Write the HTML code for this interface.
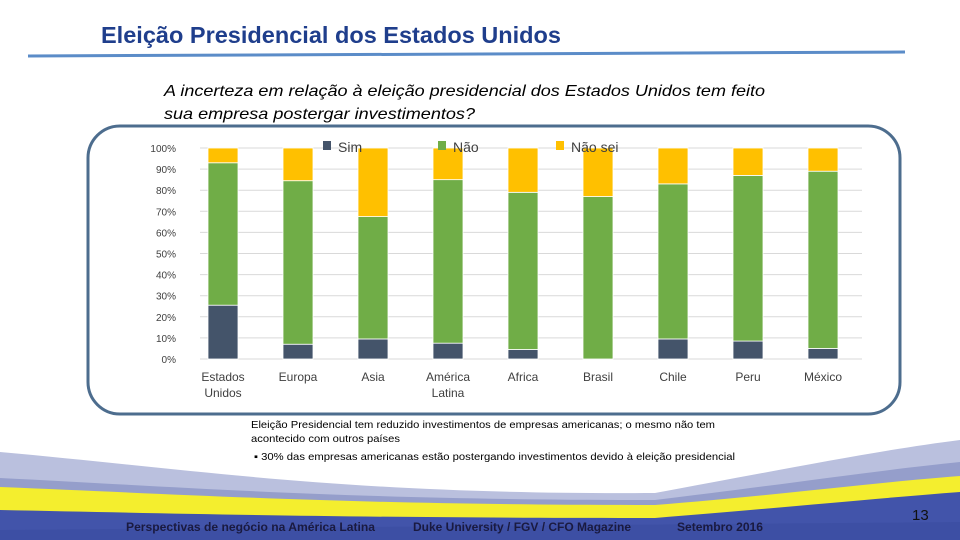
<!DOCTYPE html>
<html><head><meta charset="utf-8"><style>
body{margin:0;width:960px;height:540px;overflow:hidden;background:#fff;font-family:"Liberation Sans",sans-serif}
svg{position:absolute;left:0;top:0}
</style></head><body>
<svg width="960" height="540">
<g>
<path d="M0,452 C200,470 350,495 655,493 C780,470 880,450 960,440 L960,540 L0,540Z" fill="#bac0de"/>
<path d="M0,478 C200,488 350,500 655,500 C780,485 880,470 960,462 L960,540 L0,540Z" fill="#959ecb"/>
<path d="M0,487 C200,495 350,505 655,505 C780,495 880,482 960,476 L960,540 L0,540Z" fill="#f4ee2e"/>
<path d="M0,510 C200,514 350,518 655,518 C780,508 880,498 960,492 L960,540 L0,540Z" fill="#4254aa"/>
<path d="M0,530 L960,522 L960,540 L0,540Z" fill="#3a4ca0" opacity=".6"/>
</g>
<text x="101" y="43" font-size="23" font-weight="bold" fill="#1f3e8c" textLength="460" lengthAdjust="spacingAndGlyphs">Eleição Presidencial dos Estados Unidos</text>
<path d="M28,56 L480,54 L905,52" stroke="#5b8cc8" stroke-width="3" fill="none"/>
<text font-size="16" font-style="italic" fill="#000"><tspan x="164" y="96" textLength="601" lengthAdjust="spacingAndGlyphs">A incerteza em relação à eleição presidencial dos Estados Unidos tem feito</tspan><tspan x="164" y="119" textLength="311" lengthAdjust="spacingAndGlyphs">sua empresa postergar investimentos?</tspan></text>
<rect x="88" y="126" width="812" height="288" rx="32" fill="none" stroke="#4d6d8e" stroke-width="3"/>
<g id="chart"></g>
<text font-size="10.5" fill="#000"><tspan x="251" y="428" textLength="464" lengthAdjust="spacingAndGlyphs">Eleição Presidencial tem reduzido investimentos de empresas americanas; o mesmo não tem</tspan><tspan x="251" y="442" textLength="149" lengthAdjust="spacingAndGlyphs">acontecido com outros países</tspan></text>
<text x="254" y="460" font-size="10.5" fill="#000" textLength="481" lengthAdjust="spacingAndGlyphs">▪     30%  das empresas americanas estão postergando investimentos devido à eleição presidencial</text>
<text x="126" y="531" font-size="12" font-weight="bold" fill="#1a1a40" textLength="249" lengthAdjust="spacingAndGlyphs">Perspectivas de negócio na América Latina</text>
<text x="413" y="531" font-size="12" font-weight="bold" fill="#1a1a40">Duke University / FGV / CFO Magazine</text>
<text x="677" y="531" font-size="12" font-weight="bold" fill="#1a1a40" textLength="86" lengthAdjust="spacingAndGlyphs">Setembro 2016</text>
<text x="912" y="520" font-size="15" fill="#111">13</text>
</svg>
<script>
const categories=[["Estados","Unidos"],["Europa"],["Asia"],["América","Latina"],["Africa"],["Brasil"],["Chile"],["Peru"],["México"]];
const simValues=[25.5,7,9.5,7.5,4.5,0,9.5,8.5,5];
const naoValues=[67.5,77.5,58,77.5,74.5,77,73.5,78.5,84];
const naoSeiValues=[7,15.5,32.5,15,21,23,17,13,11];
const yTicks=[0,10,20,30,40,50,60,70,80,90,100];
const NS="http://www.w3.org/2000/svg";
const g=document.getElementById('chart');
const y0=359,y1=148,xL=200,xR=862,step=75,x0=223,bw=30;
const y=v=>y0-(v/100)*(y0-y1);
const x=i=>x0+i*step;
function mk(t,a){const e=document.createElementNS(NS,t);for(const k in a)e.setAttribute(k,a[k]);g.appendChild(e);return e;}
yTicks.forEach(t=>{
 const l=mk('line',{x1:xL,x2:xR,y1:y(t),y2:y(t),stroke:'#d9d9d9','stroke-width':1});
 
 
 const tx=mk('text',{x:176,y:y(t)+4,'font-size':10,fill:'#404040','text-anchor':'end'});
 tx.textContent=t+'%';
 
 
});
const cols=['#44546a','#70ad47','#ffc000'];
categories.forEach((c,i)=>{
 let base=0;
 [simValues[i],naoValues[i],naoSeiValues[i]].forEach((v,s)=>{
  const r=mk('rect',{x:x(i)-bw/2,y:y(base+v),width:bw,height:Math.max(0,y(base)-y(base+v)),fill:cols[s],stroke:'#fff','stroke-width':0.8});
  
  
  base+=v;
 });
 c.forEach((w,j)=>{
  const t=mk('text',{x:x(i),y:381+j*16,'font-size':12,fill:'#404040','text-anchor':'middle'});
  t.textContent=w;
  
  
 });
});
const leg=[['Sim',323],['Não',438],['Não sei',556]];
leg.forEach((L,i)=>{
 const r=mk('rect',{x:L[1],y:141,width:8,height:9,fill:cols[i]});
 
 
 const t=mk('text',{x:L[1]+15,y:152,'font-size':14,fill:'#404040'});
 t.textContent=L[0];
 
 
});
</script>
</body></html>
